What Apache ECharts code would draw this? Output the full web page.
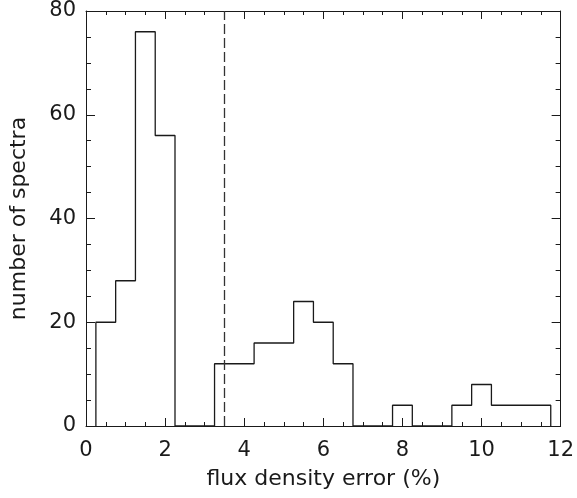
<!DOCTYPE html>
<html>
<head>
<meta charset="utf-8">
<script src="https://cdn.jsdelivr.net/npm/echarts@6/dist/echarts.min.js"></script>
<style>html,body{margin:0;padding:0;background:#fff}#c{width:577px;height:498px}</style>
</head>
<body>
<div id="c"></div>
<script>
// histogram bins (left edges, width 0.5) and counts
var binLeftEdges = [0.25,0.75,1.25,1.75,2.25,2.75,3.25,3.75,4.25,4.75,5.25,5.75,6.25,6.75,7.25,7.75,8.25,8.75,9.25,9.75,10.25,10.75,11.25];
var binCounts    = [20,28,76,56,0,0,12,12,16,16,24,20,12,0,0,4,0,0,4,8,4,4,4];
var binWidth = 0.5;
var thresholdX = 3.5;
var xTicks = [0,2,4,6,8,10,12];
var yTicks = [0,20,40,60,80];

var pts = [[binLeftEdges[0], 0]];
for (var i = 0; i < binLeftEdges.length; i++) pts.push([binLeftEdges[i], binCounts[i]]);
var lastEdge = binLeftEdges[binLeftEdges.length - 1] + binWidth;
pts.push([lastEdge, 0]);

var FONT = 'DejaVu Sans';
var INK = '#1a1a1a';
var labelStyle = {color: INK, fontFamily: FONT, fontSize: 21};

function xAx(pos, showLabel) {
  return {
    type: 'value', position: pos, min: xTicks[0], max: xTicks[xTicks.length-1], interval: 2,
    axisLine: {show: true, onZero: false, lineStyle: {color: INK, width: 1}},
    axisTick: {show: true, inside: true, length: 8, lineStyle: {color: INK}},
    minorTick: {show: true, splitNumber: 4, length: 4, lineStyle: {color: INK}},
    splitLine: {show: false},
    axisLabel: Object.assign({show: showLabel, margin: 14}, labelStyle),
    name: showLabel ? 'flux density error (%)' : '',
    nameLocation: 'middle', nameGap: 42,
    nameTextStyle: {color: INK, fontFamily: FONT, fontSize: 22}
  };
}
function yAx(pos, showLabel) {
  return {
    type: 'value', position: pos, min: yTicks[0], max: yTicks[yTicks.length-1], interval: 20,
    axisLine: {show: true, onZero: false, lineStyle: {color: INK, width: 1}},
    axisTick: {show: true, inside: true, length: 9, lineStyle: {color: INK}},
    minorTick: {show: true, splitNumber: 4, length: 5, lineStyle: {color: INK}},
    splitLine: {show: false},
    axisLabel: Object.assign({show: showLabel, margin: 10}, labelStyle),
    name: showLabel ? 'number of spectra' : '',
    nameLocation: 'middle', nameGap: 56,
    nameTextStyle: {color: INK, fontFamily: FONT, fontSize: 22}
  };
}

var chart = echarts.init(document.getElementById('c'), null, {renderer: 'canvas'});
chart.setOption({
  animation: false,
  backgroundColor: '#fff',
  grid: {left: 85, right: 16, top: 11, bottom: 72},
  xAxis: [xAx('bottom', true), xAx('top', false)],
  yAxis: [yAx('left', true), yAx('right', false)],
  series: [{
    type: 'line', step: 'end', showSymbol: false, symbol: 'none',
    data: pts, xAxisIndex: 0, yAxisIndex: 0,
    lineStyle: {color: INK, width: 1.3},
    markLine: {
      silent: true, symbol: 'none', label: {show: false},
      lineStyle: {color: '#333', type: [10, 4], width: 1.3},
      data: [{xAxis: thresholdX}]
    }
  }]
});
</script>
</body>
</html>
